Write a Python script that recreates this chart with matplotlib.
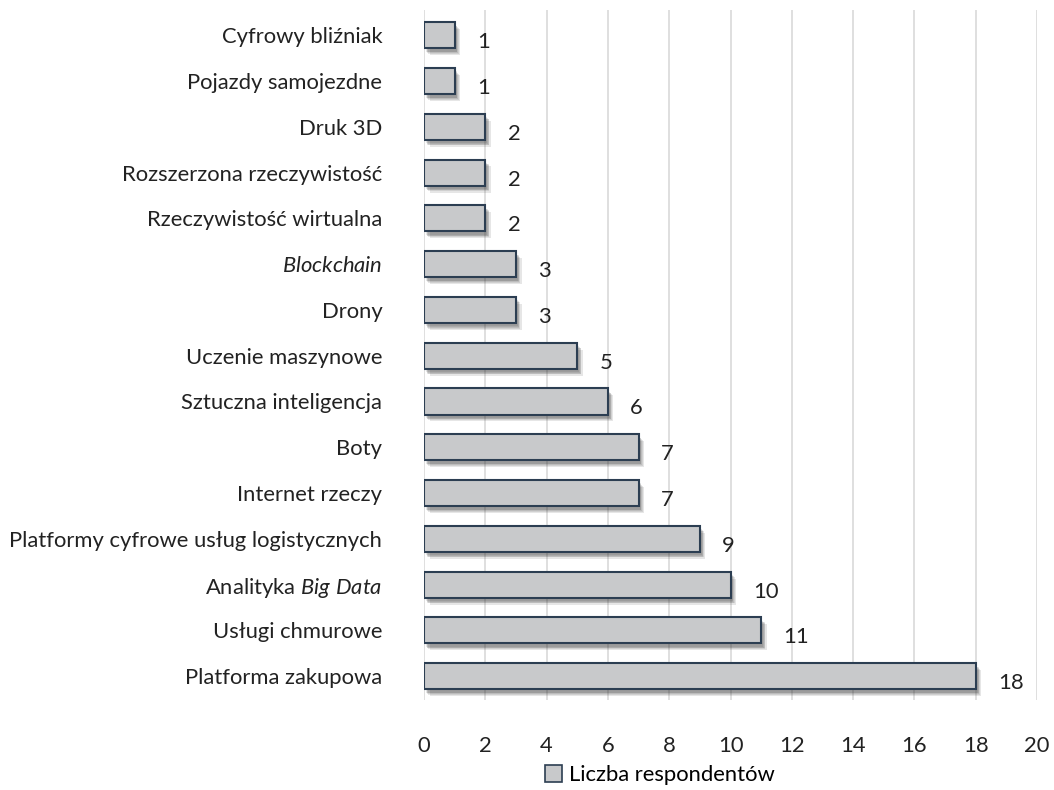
import matplotlib
matplotlib.use("Agg")
import matplotlib.pyplot as plt
import matplotlib.patheffects as pe

plt.rcParams['font.family'] = ['Lato', 'DejaVu Sans']
plt.rcParams['mathtext.fontset'] = 'custom'
plt.rcParams['mathtext.rm'] = 'Lato'
plt.rcParams['mathtext.it'] = 'Lato:italic'

# data, top to bottom as in the chart
categories = [
    "Cyfrowy bliźniak",
    "Pojazdy samojezdne",
    "Druk 3D",
    "Rozszerzona rzeczywistość",
    "Rzeczywistość wirtualna",
    r"$\it{Blockchain}$",
    "Drony",
    "Uczenie maszynowe",
    "Sztuczna inteligencja",
    "Boty",
    "Internet rzeczy",
    "Platformy cyfrowe usług logistycznych",
    r"Analityka $\it{Big\ Data}$",
    "Usługi chmurowe",
    "Platforma zakupowa",
]
values = [1, 1, 2, 2, 2, 3, 3, 5, 6, 7, 7, 9, 10, 11, 18]
xticks = [0, 2, 4, 6, 8, 10, 12, 14, 16, 18, 20]
series_name = "Liczba respondentów"

FS = 15.8

fig = plt.figure(figsize=(10.54, 7.9), dpi=100)
ax = fig.add_axes([0.4023, 0.1139, 0.5816, 0.8734])

ypos = list(range(len(categories)))
# soft shadow: a few stacked faint offsets
shadow = [pe.SimplePatchShadow(offset=(d, -d - 1), shadow_rgbFace='#333333', alpha=0.12)
          for d in (4, 3, 2.5, 2, 1.5)] + [pe.Normal()]
bars = ax.barh(ypos, values, height=0.57, color='#c8c9cb', edgecolor='#2c3e52',
               linewidth=1.5, zorder=3, label=series_name)
for b in bars:
    b.set_path_effects(shadow)

for y, v in zip(ypos, values):
    ax.annotate(str(v), (v, y), xytext=(16, -5), textcoords='offset points',
                ha='left', va='center', fontsize=FS, color='#222222')

ax.set_xlim(0, 20)
ax.set_ylim(len(categories) - 0.48, -0.55)
ax.set_xticks(xticks)
ax.set_yticks(ypos)
ax.set_yticklabels(categories)
ax.grid(axis='x', color='#d9d9d9', linewidth=1.2, zorder=0)
for s in ax.spines.values():
    s.set_visible(False)
ax.tick_params(axis='both', length=0, labelsize=FS, colors='#222222')
ax.tick_params(axis='x', pad=26)
ax.tick_params(axis='y', pad=30)

leg = fig.legend(handles=[bars], labels=[series_name], loc='center',
                 bbox_to_anchor=(0.626, 0.019), frameon=False, fontsize=FS,
                 handlelength=0.8, handleheight=0.8, handletextpad=0.3)
for h in leg.legend_handles:
    h.set_path_effects([])
    h.set_linewidth(1.2)

fig.savefig("out.png", dpi=100)
